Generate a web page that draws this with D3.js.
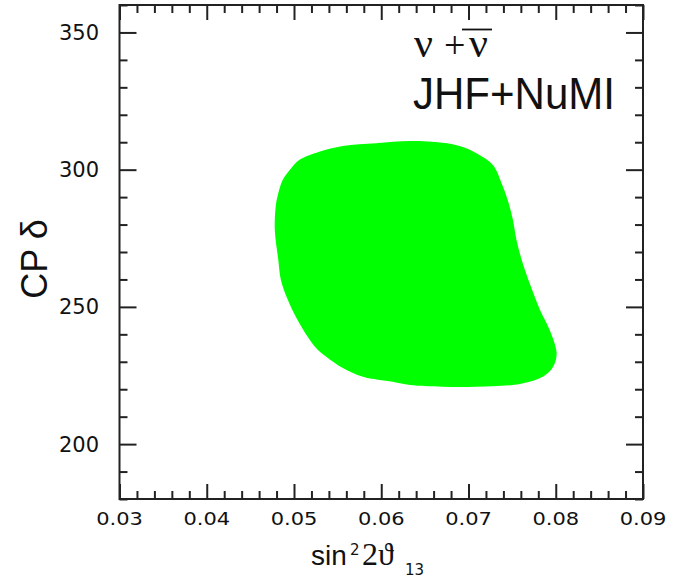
<!DOCTYPE html>
<html>
<head>
<meta charset="utf-8">
<script src="https://cdn.jsdelivr.net/npm/d3@7"></script>
<style>
  html, body { margin: 0; padding: 0; background: #fff; }
  svg { display: block; }
</style>
</head>
<body>
<script>
// Allowed region boundary (sin^2 2theta13, CP delta in degrees), traced clockwise
const regionS = [0.0633, 0.0670, 0.0690, 0.0709, 0.0728, 0.0738, 0.0745, 0.0751, 0.0755, 0.0761,
                 0.0770, 0.0782, 0.0793, 0.0801, 0.0797, 0.0785, 0.0759, 0.0709, 0.0670, 0.0633,
                 0.0613, 0.0579, 0.0556, 0.0537, 0.0524, 0.0506, 0.0493, 0.0485, 0.0482, 0.0478,
                 0.0479, 0.0481, 0.0487, 0.0497, 0.0506, 0.0529, 0.0556, 0.0594];
const regionDelta = [310.4, 309.8, 308.6, 306.0, 301.7, 295.0, 288.9, 281.6, 274.4, 267.1,
                     258.7, 248.9, 241.6, 233.1, 228.2, 224.5, 221.9, 220.9, 220.9, 221.5,
                     222.7, 224.5, 227.7, 231.8, 235.5, 244.1, 252.5, 259.8, 267.1, 278.0,
                     286.5, 290.1, 296.2, 300.6, 303.5, 306.5, 308.6, 309.6];

const xDomain = [0.03, 0.09];
const yDomain = [180, 360];
const xMajor = [0.03, 0.04, 0.05, 0.06, 0.07, 0.08, 0.09];
const xLabels = ["0.03", "0.04", "0.05", "0.06", "0.07", "0.08", "0.09"];
const yMajor = [200, 250, 300, 350];
const yLabels = ["200", "250", "300", "350"];
const xMinorStep = 0.002;
const yMinorStep = 10;

const W = 675, H = 578;
const frame = { left: 119.5, right: 643, top: 5, bottom: 499 };

const svg = d3.select("body").append("svg").attr("width", W).attr("height", H);

const x = d3.scaleLinear().domain(xDomain).range([frame.left, frame.right]);
const y = d3.scaleLinear().domain(yDomain).range([frame.bottom, frame.top]);

// filled allowed region
const pts = regionS.map((s, i) => [s, regionDelta[i]]);
const area = d3.line().x(d => x(d[0])).y(d => y(d[1])).curve(d3.curveCatmullRomClosed.alpha(0.5));
svg.append("path").attr("d", area(pts)).attr("fill", "#00ff00").attr("stroke", "none");

// minor tick values
const xMinor = d3.range(0, Math.round((xDomain[1] - xDomain[0]) / xMinorStep) + 1)
  .map(i => xDomain[0] + i * xMinorStep)
  .filter(v => !xMajor.some(m => Math.abs(m - v) < 1e-9));
const yMinor = d3.range(yDomain[0], yDomain[1] + 0.001, yMinorStep)
  .filter(v => !yMajor.includes(v));

const ink = "#222";
function styleAxis(g) {
  g.select(".domain").remove();
  g.selectAll(".tick line").attr("stroke", ink).attr("stroke-width", 2);
  g.selectAll(".tick text").remove();
}

// ticks on all four sides, pointing inwards
svg.append("g").attr("transform", `translate(0,${frame.bottom})`)
  .call(d3.axisBottom(x).tickValues(xMajor).tickSize(-15)).call(styleAxis);
svg.append("g").attr("transform", `translate(0,${frame.bottom})`)
  .call(d3.axisBottom(x).tickValues(xMinor).tickSize(-8)).call(styleAxis);
svg.append("g").attr("transform", `translate(0,${frame.top})`)
  .call(d3.axisTop(x).tickValues(xMajor).tickSize(-15)).call(styleAxis);
svg.append("g").attr("transform", `translate(0,${frame.top})`)
  .call(d3.axisTop(x).tickValues(xMinor).tickSize(-8)).call(styleAxis);
svg.append("g").attr("transform", `translate(${frame.left},0)`)
  .call(d3.axisLeft(y).tickValues(yMajor).tickSize(-17)).call(styleAxis);
svg.append("g").attr("transform", `translate(${frame.left},0)`)
  .call(d3.axisLeft(y).tickValues(yMinor).tickSize(-8)).call(styleAxis);
svg.append("g").attr("transform", `translate(${frame.right},0)`)
  .call(d3.axisRight(y).tickValues(yMajor).tickSize(-17)).call(styleAxis);
svg.append("g").attr("transform", `translate(${frame.right},0)`)
  .call(d3.axisRight(y).tickValues(yMinor).tickSize(-8)).call(styleAxis);

// frame
svg.append("rect")
  .attr("x", frame.left).attr("y", frame.top)
  .attr("width", frame.right - frame.left).attr("height", frame.bottom - frame.top)
  .attr("fill", "none").attr("stroke", ink).attr("stroke-width", 2);

// tick labels
const tickFont = "'DejaVu Sans', sans-serif";
svg.append("g").selectAll("text").data(yMajor).join("text")
  .attr("x", 99).attr("y", d => y(d)).attr("dy", "0.36em")
  .attr("text-anchor", "end").attr("font-family", tickFont).attr("font-size", 21)
  .attr("fill", "#111").text((d, i) => yLabels[i]);

svg.append("g").selectAll("text").data(xMajor).join("text")
  .attr("transform", d => `translate(${x(d)},525) scale(1,0.86)`)
  .attr("text-anchor", "middle").attr("font-family", tickFont).attr("font-size", 21)
  .attr("fill", "#111").text((d, i) => xLabels[i]);

// y-axis title
svg.append("text")
  .attr("transform", "translate(47,259) rotate(-90)")
  .attr("text-anchor", "middle")
  .attr("font-family", "'Liberation Sans', Arial, sans-serif").attr("font-size", 36)
  .attr("fill", "#111")
  .text("CP δ");

// x-axis title: sin^2 2θ13
const xt = svg.append("text").attr("fill", "#111");
xt.append("tspan").attr("x", 311).attr("y", 565)
  .attr("font-family", "'Liberation Sans', Arial, sans-serif").attr("font-size", 28).text("sin");
xt.append("tspan").attr("x", 350).attr("y", 555)
  .attr("font-family", "'DejaVu Sans', sans-serif").attr("font-size", 15).text("2");
xt.append("tspan").attr("x", 362).attr("y", 565)
  .attr("font-family", "'Liberation Serif', 'DejaVu Serif', serif").attr("font-size", 32).text("2ϑ");
xt.append("tspan").attr("x", 405).attr("y", 575)
  .attr("font-family", "'DejaVu Sans', sans-serif").attr("font-size", 15).text("13");

// legend: ν + ν̄ and experiment name
const serif = "'Liberation Serif', 'DejaVu Serif', serif";
const lg = svg.append("text").attr("fill", "#111").attr("font-family", serif);
lg.append("tspan").attr("x", 414).attr("y", 57).attr("font-size", 42).text("ν");
lg.append("tspan").attr("x", 444).attr("y", 58).attr("font-size", 38).text("+");
lg.append("tspan").attr("x", 469).attr("y", 57).attr("font-size", 42).text("ν");
svg.append("line").attr("x1", 462).attr("x2", 492).attr("y1", 29.5).attr("y2", 29.5)
  .attr("stroke", "#111").attr("stroke-width", 1.8);

svg.append("text")
  .attr("x", 413).attr("y", 109)
  .attr("font-family", "'Liberation Sans', Arial, sans-serif").attr("font-size", 44)
  .attr("textLength", 202).attr("lengthAdjust", "spacingAndGlyphs")
  .attr("fill", "#111").text("JHF+NuMI");
</script>
</body>
</html>
